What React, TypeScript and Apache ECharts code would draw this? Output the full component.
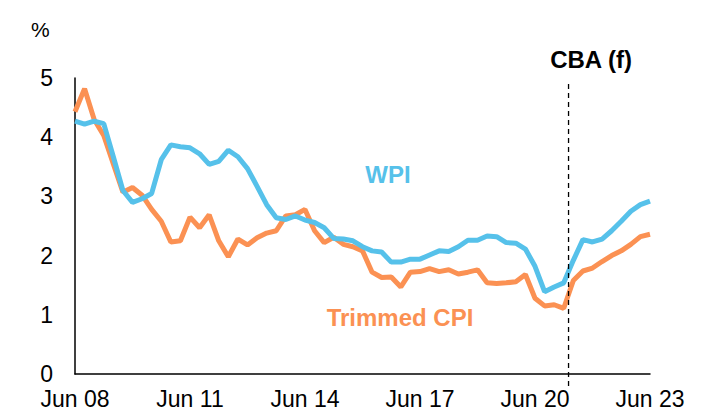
import React, { useEffect, useRef } from "react";
import * as echarts from "echarts";

// Quarterly index: 0 = Jun 08 ... 60 = Jun 23
const xTickLabels = ["Jun 08", "Jun 11", "Jun 14", "Jun 17", "Jun 20", "Jun 23"];

const wpi = [
  4.27, 4.22, 4.27, 4.23, 3.67, 3.1, 2.9, 2.96, 3.05, 3.62,
  3.87, 3.84, 3.82, 3.72, 3.54, 3.59, 3.78, 3.67, 3.47, 3.17,
  2.86, 2.64, 2.61, 2.67, 2.6, 2.56, 2.47, 2.29, 2.28, 2.25,
  2.15, 2.08, 2.06, 1.89, 1.89, 1.94, 1.94, 2.01, 2.08, 2.07,
  2.15, 2.26, 2.26, 2.33, 2.32, 2.22, 2.21, 2.11, 1.82, 1.39,
  1.47, 1.54, 1.92, 2.27, 2.23, 2.28, 2.42, 2.58, 2.75, 2.86,
  2.92,
];

const trimmedCpi = [
  4.43, 4.82, 4.3, 4.03, 3.55, 3.07, 3.15, 3.02, 2.78, 2.58,
  2.23, 2.25, 2.65, 2.47, 2.69, 2.25, 1.98, 2.28, 2.18, 2.3,
  2.38, 2.42, 2.67, 2.69, 2.78, 2.42, 2.22, 2.31, 2.19, 2.15,
  2.08, 1.72, 1.63, 1.64, 1.47, 1.72, 1.73, 1.78, 1.73, 1.76,
  1.69, 1.72, 1.76, 1.54, 1.53, 1.54, 1.56, 1.68, 1.28, 1.15,
  1.17, 1.11, 1.58, 1.74, 1.79, 1.9, 2.0, 2.08, 2.19, 2.32,
  2.36,
];

const forecastStart = 51.5; // quarter index where CBA forecast begins
const forecastTop = 4.9;
const forecastBottom = -0.25;

const FONT = "'Liberation Sans', Arial, sans-serif";
const BLUE = "#56C1EA";
const ORANGE = "#FB9153";

export default function App() {
  const ref = useRef<HTMLDivElement>(null);

  useEffect(() => {
    if (!ref.current) return;
    const chart = echarts.init(ref.current, null, { renderer: "svg" });
    const toPairs = (arr: number[]) => arr.map((v, i) => [i, v]);
    chart.setOption({
      animation: false,
      backgroundColor: "#ffffff",
      textStyle: { fontFamily: FONT },
      grid: { left: 75, right: 57, top: 78, bottom: 39, containLabel: false },
      xAxis: {
        type: "value",
        min: 0,
        max: 60,
        interval: 12,
        axisLine: { show: true, lineStyle: { color: "#000", width: 1.5 } },
        axisTick: { show: false },
        splitLine: { show: false },
        axisLabel: {
          color: "#000",
          fontSize: 23,
          fontFamily: FONT,
          margin: 13,
          formatter: (v: number) => xTickLabels[Math.round(v / 12)] ?? "",
        },
      },
      yAxis: {
        type: "value",
        min: 0,
        max: 5,
        interval: 1,
        axisLine: { show: true, lineStyle: { color: "#000", width: 1.5 } },
        axisTick: { show: false },
        splitLine: { show: false },
        axisLabel: { color: "#000", fontSize: 23, fontFamily: FONT, margin: 22 },
      },
      series: [
        {
          name: "Trimmed CPI",
          type: "line",
          data: toPairs(trimmedCpi),
          showSymbol: false,
          lineStyle: { color: ORANGE, width: 5 },
          itemStyle: { color: ORANGE },
          z: 2,
        },
        {
          name: "WPI",
          type: "line",
          data: toPairs(wpi),
          showSymbol: false,
          lineStyle: { color: BLUE, width: 5 },
          itemStyle: { color: BLUE },
          z: 3,
        },
      ],
      graphic: [
        {
          type: "text",
          left: 31,
          top: 19,
          style: { text: "%", fontSize: 21, fontFamily: FONT, fill: "#000" },
        },
        {
          type: "text",
          x: 388,
          y: 174,
          style: {
            text: "WPI",
            fontSize: 24,
            fontWeight: "bold",
            fontFamily: FONT,
            fill: BLUE,
            align: "center",
            verticalAlign: "middle",
          },
        },
        {
          type: "text",
          x: 400,
          y: 317,
          style: {
            text: "Trimmed CPI",
            fontSize: 24,
            fontWeight: "bold",
            fontFamily: FONT,
            fill: ORANGE,
            align: "center",
            verticalAlign: "middle",
          },
        },
        {
          type: "text",
          x: 591,
          y: 59,
          style: {
            text: "CBA (f)",
            fontSize: 24,
            fontWeight: "bold",
            fontFamily: FONT,
            fill: "#000",
            align: "center",
            verticalAlign: "middle",
          },
        },
      ],
    });
    const p1 = chart.convertToPixel({ gridIndex: 0 }, [forecastStart, forecastTop]) as number[];
    const p2 = chart.convertToPixel({ gridIndex: 0 }, [forecastStart, forecastBottom]) as number[];
    chart.setOption({
      graphic: [
        {
          type: "line",
          id: "forecastLine",
          shape: { x1: p1[0], y1: p1[1], x2: p2[0], y2: p2[1] },
          style: { stroke: "#000", lineWidth: 1.3, lineDash: [5, 4] },
          z: 10,
        },
      ],
    });
    return () => chart.dispose();
  }, []);

  return <div ref={ref} style={{ width: 707, height: 413, position: "absolute", left: 0, top: 0 }} />;
}
